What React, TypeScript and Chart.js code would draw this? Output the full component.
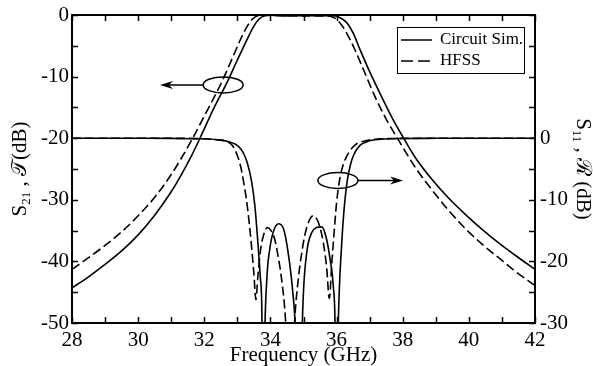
import React, { useEffect, useRef } from "react";
import { Chart, registerables } from "chart.js";

Chart.register(...registerables);

const SERIF = '"Liberation Serif", "DejaVu Serif", "Times New Roman", serif';

// Axis ranges
const freqMin = 28;
const freqMax = 42;
const leftMin = -50;
const leftMax = 0;
const rightMin = -30;
const rightMax = 20;

// S21 (transmission) – Circuit Sim.
const s21CircuitFreq = [28, 28.5, 29, 29.5, 30, 30.5, 31, 31.3, 31.6, 31.87, 32.3, 32.7, 33.0, 33.3, 33.5, 33.65, 33.8, 34.0, 34.5, 35.0, 35.5, 35.9, 36.05, 36.3, 36.5, 36.7, 37.0, 37.4, 37.7, 38.05, 38.4, 38.9, 39.4, 39.9, 40.4, 40.9, 41.4, 42];
const s21CircuitDb = [-44.3, -42.5, -40.5, -38.3, -35.7, -32.5, -28.7, -26.0, -23.0, -20.0, -15.0, -10.8, -7.3, -3.9, -1.8, -0.7, -0.15, -0.05, -0.15, -0.1, -0.15, -0.1, -0.3, -1.2, -2.9, -5.5, -9.2, -13.7, -16.9, -20.2, -23.3, -26.8, -29.8, -32.4, -34.8, -37.0, -39.0, -41.3];

// S21 (transmission) – HFSS
const s21HfssFreq = [28, 28.5, 29, 29.5, 30, 30.5, 31, 31.3, 31.65, 32.0, 32.5, 32.85, 33.1, 33.3, 33.45, 33.6, 34.0, 34.5, 35.0, 35.5, 35.8, 36.0, 36.2, 36.4, 36.56, 36.8, 37.2, 37.5, 37.85, 38.4, 38.9, 39.4, 39.9, 40.4, 40.9, 41.4, 42];
const s21HfssDb = [-41.3, -39.4, -37.4, -35.2, -32.6, -29.6, -25.9, -23.3, -20.0, -16.4, -11.2, -7.0, -3.9, -1.8, -0.7, -0.15, -0.05, -0.1, -0.15, -0.1, -0.2, -0.7, -2.0, -3.9, -5.7, -8.7, -13.7, -16.9, -20.1, -24.9, -28.5, -31.8, -34.7, -37.2, -39.4, -41.6, -43.9];

// S11 (reflection, right axis) – Circuit Sim.
const s11CircuitFreq = [28, 30, 31, 32, 32.4, 32.7, 32.95, 33.1, 33.2, 33.3, 33.43, 33.53, 33.63, 33.7, 33.74, 33.78, 33.82, 33.89, 33.98, 34.1, 34.25, 34.4, 34.52, 34.64, 34.75, 34.83, 34.88, 34.93, 34.99, 35.1, 35.25, 35.4, 35.55, 35.68, 35.8, 35.9, 35.96, 36.0, 36.04, 36.08, 36.15, 36.22, 36.32, 36.42, 36.51, 36.7, 36.9, 37.11, 37.5, 38, 39, 42];
const s11CircuitDb = [0, -0.01, -0.03, -0.1, -0.25, -0.5, -1.0, -1.7, -2.6, -4.0, -7.0, -11.0, -17.6, -23, -28, -60, -35, -23, -18, -15.0, -13.9, -14.8, -18, -23, -30, -40, -60, -38, -26, -18.5, -15.3, -14.5, -14.4, -16, -19.5, -24, -32, -60, -34, -25, -17.6, -12, -7.0, -4.3, -2.8, -1.2, -0.6, -0.3, -0.12, -0.05, -0.02, 0];

// S11 (reflection, right axis) – HFSS
const s11HfssFreq = [28, 31, 32, 32.4, 32.68, 32.85, 33.0, 33.1, 33.18, 33.3, 33.43, 33.5, 33.56, 33.62, 33.7, 33.8, 33.91, 34.02, 34.12, 34.22, 34.34, 34.45, 34.53, 34.6, 34.66, 34.73, 34.84, 34.95, 35.05, 35.17, 35.29, 35.4, 35.5, 35.6, 35.7, 35.78, 35.86, 35.93, 36.0, 36.1, 36.2, 36.3, 36.45, 36.61, 36.81, 37.1, 37.5, 38, 42];
const s11HfssDb = [0, -0.02, -0.1, -0.25, -0.5, -1.2, -2.8, -4.6, -6.8, -11, -17.6, -22, -26.2, -22.5, -18.2, -15.6, -14.5, -15.0, -16.2, -18.8, -23, -29, -38, -60, -40, -30, -23, -18.5, -15.5, -13.4, -12.6, -13.1, -14.5, -17.0, -21.0, -26.0, -20.0, -15.0, -10.5, -6.5, -4.3, -3.0, -1.7, -0.9, -0.5, -0.2, -0.08, -0.03, 0];

// Legend labels
const legendLabels = ["Circuit Sim.", "HFSS"];

// Annotation anchors (data coordinates: freq, left-axis dB)
const s21Marker = { freq: 32.57, db: -11.36, arrowTo: 30.66 };
const s11Marker = { freq: 36.04, db: -26.87, arrowTo: 38.01 };

const toPoints = (xs: number[], ys: number[]) => xs.map((x, i) => ({ x, y: ys[i] }));

function drawParts(
  ctx: CanvasRenderingContext2D,
  parts: { t: string; size: number; dy?: number }[],
  cx: number,
  cy: number,
  angle: number
) {
  ctx.save();
  ctx.translate(cx, cy);
  ctx.rotate(angle);
  ctx.textBaseline = "alphabetic";
  ctx.textAlign = "left";
  ctx.fillStyle = "#000";
  const widths = parts.map((p) => {
    ctx.font = `${p.size}px ${SERIF}`;
    return ctx.measureText(p.t).width;
  });
  const total = widths.reduce((a, b) => a + b, 0);
  let x = -total / 2;
  parts.forEach((p, i) => {
    ctx.font = `${p.size}px ${SERIF}`;
    ctx.fillText(p.t, x, p.dy || 0);
    x += widths[i];
  });
  ctx.restore();
}

function arrowHead(ctx: CanvasRenderingContext2D, tx: number, ty: number, dir: number) {
  const len = 13;
  const hw = 4;
  ctx.beginPath();
  ctx.moveTo(tx, ty);
  ctx.lineTo(tx - dir * len, ty - hw);
  ctx.lineTo(tx - dir * (len - 4), ty);
  ctx.lineTo(tx - dir * len, ty + hw);
  ctx.closePath();
  ctx.fill();
}

const TICK_LEN = 6;

const decorPlugin = {
  id: "decor",
  afterDraw(chart: any) {
    const ctx: CanvasRenderingContext2D = chart.ctx;
    const { left, right, top, bottom } = chart.chartArea;
    const xs = chart.scales.x;
    const ys = chart.scales.y;
    ctx.save();
    ctx.strokeStyle = "#000";
    ctx.fillStyle = "#000";
    ctx.setLineDash([]);

    // Inward tick marks on all four sides
    ctx.lineWidth = 1.5;
    ctx.beginPath();
    const sides: [string, string][] = [
      ["x", "bottom"],
      ["xTop", "top"],
      ["y", "left"],
      ["y2", "right"],
    ];
    sides.forEach(([id, side]) => {
      const sc = chart.scales[id];
      sc.ticks.forEach((t: any) => {
        const p = Math.round(sc.getPixelForValue(t.value)) + 0.5;
        if (side === "bottom") {
          ctx.moveTo(p, bottom);
          ctx.lineTo(p, bottom - TICK_LEN);
        } else if (side === "top") {
          ctx.moveTo(p, top);
          ctx.lineTo(p, top + TICK_LEN);
        } else if (side === "left") {
          ctx.moveTo(left, p);
          ctx.lineTo(left + TICK_LEN, p);
        } else {
          ctx.moveTo(right, p);
          ctx.lineTo(right - TICK_LEN, p);
        }
      });
    });
    ctx.stroke();

    // Ellipse + arrow markers
    ctx.lineWidth = 1.5;
    const markers = [
      { m: s21Marker, dir: -1 },
      { m: s11Marker, dir: 1 },
    ];
    markers.forEach(({ m, dir }) => {
      const cx = xs.getPixelForValue(m.freq);
      const cy = ys.getPixelForValue(m.db);
      const rx = 20;
      const ry = 8;
      ctx.beginPath();
      ctx.ellipse(cx, cy, rx, ry, 0, 0, Math.PI * 2);
      ctx.stroke();
      const tx = xs.getPixelForValue(m.arrowTo);
      ctx.beginPath();
      ctx.moveTo(cx + dir * rx, cy);
      ctx.lineTo(tx - dir * 8, cy);
      ctx.stroke();
      arrowHead(ctx, tx, cy, dir);
    });

    // Legend
    const bx = right - 138;
    const by = top + 12;
    const bw = 127;
    const bh = 46;
    ctx.fillStyle = "#fff";
    ctx.fillRect(bx, by, bw, bh);
    ctx.lineWidth = 1;
    ctx.strokeStyle = "#000";
    ctx.strokeRect(bx + 0.5, by + 0.5, bw, bh);
    ctx.lineWidth = 1.5;
    ctx.fillStyle = "#000";
    ctx.font = `17px ${SERIF}`;
    ctx.textBaseline = "middle";
    ctx.textAlign = "left";
    legendLabels.forEach((lab, i) => {
      const yy = by + 13 + i * 21;
      ctx.setLineDash(i === 0 ? [] : [12, 5]);
      ctx.beginPath();
      ctx.moveTo(bx + 4, yy);
      ctx.lineTo(bx + 35, yy);
      ctx.stroke();
      ctx.setLineDash([]);
      ctx.fillText(lab, bx + 43, yy);
    });

    // Axis titles
    drawParts(
      ctx,
      [
        { t: "S", size: 21 },
        { t: "21", size: 13, dy: 4 },
        { t: " , ", size: 21 },
        { t: "𝒯", size: 21 },
        { t: "(dB)", size: 21 },
      ],
      26,
      (top + bottom) / 2,
      -Math.PI / 2
    );
    drawParts(
      ctx,
      [
        { t: "S", size: 21 },
        { t: "11", size: 13, dy: 4 },
        { t: " , ", size: 21 },
        { t: "ℛ", size: 21 },
        { t: " (dB)", size: 21 },
      ],
      577,
      (top + bottom) / 2,
      Math.PI / 2
    );
    drawParts(ctx, [{ t: "Frequency (GHz)", size: 21 }], (left + right) / 2, 361, 0);
    ctx.restore();
  },
};

function axisBase(padding: number) {
  return {
    grid: {
      drawOnChartArea: false,
      drawTicks: false,
      tickLength: 0,
    },
    border: { display: true, color: "#000", width: 2 },
    ticks: {
      color: "#000",
      font: { family: SERIF, size: 21 },
      padding,
      autoSkip: false,
      maxRotation: 0,
      minRotation: 0,
    },
  };
}

const fixSize = (w: number | null, h: number | null) => (s: any) => {
  if (w !== null) s.width = w;
  if (h !== null) s.height = h;
  s.paddingTop = 0;
  s.paddingBottom = 0;
  s.paddingLeft = 0;
  s.paddingRight = 0;
};

export default function App() {
  const ref = useRef<HTMLCanvasElement>(null);
  useEffect(() => {
    const canvas = ref.current;
    if (!canvas) return;
    const lineDs = (label: string, pts: any[], dashed: boolean, axis: string) => ({
      label,
      data: pts,
      yAxisID: axis,
      borderColor: "#000",
      backgroundColor: "#000",
      borderWidth: 1.6,
      borderDash: dashed ? [9, 4] : [],
      pointRadius: 0,
      fill: false,
      cubicInterpolationMode: "monotone" as const,
    });
    const xb = axisBase(5);
    const yb = axisBase(3);
    const y2b = axisBase(5);
    const tb = axisBase(0);
    const chart = new Chart(canvas, {
      type: "line",
      data: {
        datasets: [
          lineDs("S21 Circuit Sim.", toPoints(s21CircuitFreq, s21CircuitDb), false, "y"),
          lineDs("S21 HFSS", toPoints(s21HfssFreq, s21HfssDb), true, "y"),
          lineDs("S11 Circuit Sim.", toPoints(s11CircuitFreq, s11CircuitDb), false, "y2"),
          lineDs("S11 HFSS", toPoints(s11HfssFreq, s11HfssDb), true, "y2"),
        ],
      },
      options: {
        animation: false,
        responsive: false,
        devicePixelRatio: 1,
        layout: { padding: 0 },
        plugins: { legend: { display: false }, tooltip: { enabled: false } },
        scales: {
          x: {
            type: "linear",
            position: "bottom",
            min: freqMin,
            max: freqMax,
            ...xb,
            ticks: {
              ...xb.ticks,
              stepSize: 1,
              callback: (v: any) => (Number(v) % 2 === 0 ? String(v) : ""),
            },
            afterFit: fixSize(null, 43),
          },
          xTop: {
            type: "linear",
            position: "top",
            min: freqMin,
            max: freqMax,
            ...tb,
            ticks: { ...tb.ticks, stepSize: 1, callback: () => "" },
            afterFit: fixSize(null, 15),
          },
          y: {
            type: "linear",
            position: "left",
            min: leftMin,
            max: leftMax,
            ...yb,
            ticks: {
              ...yb.ticks,
              stepSize: 5,
              callback: (v: any) => (Number(v) % 10 === 0 ? String(v) : ""),
            },
            afterFit: fixSize(72, null),
          },
          y2: {
            type: "linear",
            position: "right",
            min: rightMin,
            max: rightMax,
            ...y2b,
            ticks: {
              ...y2b.ticks,
              stepSize: 5,
              callback: (v: any) => (Number(v) <= 0 && Number(v) % 10 === 0 ? String(v) : ""),
            },
            afterFit: fixSize(58, null),
          },
        },
      } as any,
      plugins: [decorPlugin],
    });
    return () => chart.destroy();
  }, []);
  return (
    <div style={{ position: "fixed", left: 0, top: 0, width: 593, height: 366, background: "#fff" }}>
      <canvas ref={ref} width={593} height={366} style={{ display: "block", width: 593, height: 366 }} />
    </div>
  );
}
